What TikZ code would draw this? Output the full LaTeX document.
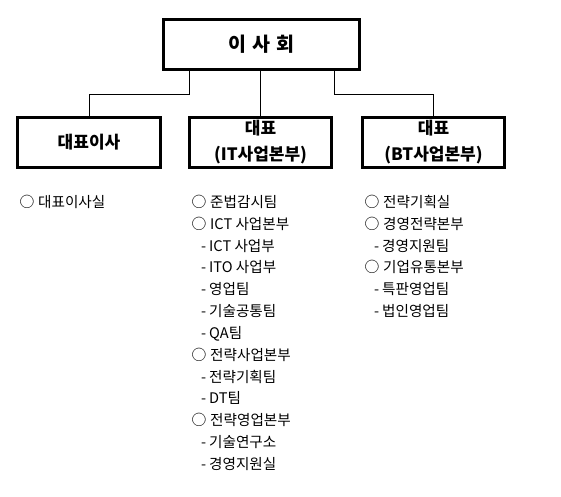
\documentclass[tikz,border=0pt]{standalone}
\usepackage{fontspec}
\setmainfont{Noto Sans CJK KR}
\newcommand\bul{\makebox[18.5pt][l]{\fontsize{14.8}{14}\selectfont ○}}
\newcommand\dsh{\makebox[8pt][l]{-}}
\begin{document}
\begin{tikzpicture}[x=1pt,y=-1pt,
  box/.style={draw, line width=2.6pt, inner sep=0pt, align=center,
    font=\bfseries\fontsize{17}{26}\selectfont},
  item/.style={anchor=west, inner sep=0pt, font=\fontsize{14.6}{16}\selectfont,
    text height=0.8em, text depth=0.1em},
  link/.style={line width=0.8pt}]
\path[use as bounding box] (0,0) rectangle (561,496);
\node[box, minimum width=196pt, minimum height=50pt,
  font=\bfseries\fontsize{19.5}{22}\selectfont] (board) at (261.5,44.5) {이\hspace{0.3em}사\hspace{0.3em}회};
\node[box, minimum width=143pt, minimum height=50pt] (ceo) at (89,142.5) {대표이사};
\node[box, minimum width=142pt, minimum height=50pt] (it) at (260.5,142.5) {대표\\(IT사업본부)};
\node[box, minimum width=142pt, minimum height=50pt] (bt) at (433.5,142.5) {대표\\(BT사업본부)};
\coordinate (j1) at (189,94);
\coordinate (j3) at (334,94);
\draw[link] (j1 |- board.south) -- (j1) -| (ceo.north);
\draw[link] (board.south -| it.north) -- (it.north);
\draw[link] (j3 |- board.south) -- (j3) -| (bt.north);
% left list
\node[item] (l0) at (19.5,204) {\bul 대표이사실};
% middle list
\def\dy{21.83}
\node[item] (m0) at (191.5,204) {\bul 준법감시팀};
\node[item] (m1) at (191.5,204+1*\dy) {\bul ICT 사업본부};
\node[item] (m2) at (201,204+2*\dy) {\dsh ICT 사업부};
\node[item] (m3) at (201,204+3*\dy) {\dsh ITO 사업부};
\node[item] (m4) at (201,204+4*\dy) {\dsh 영업팀};
\node[item] (m5) at (201,204+5*\dy) {\dsh 기술공통팀};
\node[item] (m6) at (201,204+6*\dy) {\dsh QA팀};
\node[item] (m7) at (191.5,204+7*\dy) {\bul 전략사업본부};
\node[item] (m8) at (201,204+8*\dy) {\dsh 전략기획팀};
\node[item] (m9) at (201,204+9*\dy) {\dsh DT팀};
\node[item] (m10) at (191.5,204+10*\dy) {\bul 전략영업본부};
\node[item] (m11) at (201,204+11*\dy) {\dsh 기술연구소};
\node[item] (m12) at (201,204+12*\dy) {\dsh 경영지원실};
% right list
\node[item] (r0) at (364.5,204) {\bul 전략기획실};
\node[item] (r1) at (364.5,204+1*\dy) {\bul 경영전략본부};
\node[item] (r2) at (374,204+2*\dy) {\dsh 경영지원팀};
\node[item] (r3) at (364.5,204+3*\dy) {\bul 기업유통본부};
\node[item] (r4) at (374,204+4*\dy) {\dsh 특판영업팀};
\node[item] (r5) at (374,204+5*\dy) {\dsh 법인영업팀};
\end{tikzpicture}
\end{document}
